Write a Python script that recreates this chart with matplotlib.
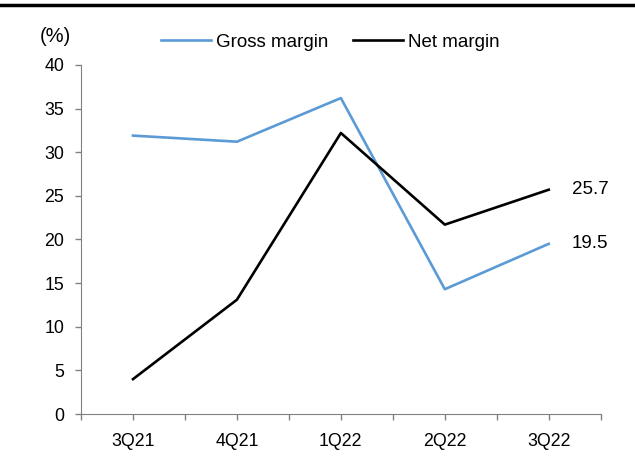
import matplotlib.pyplot as plt
import numpy as np
from matplotlib.lines import Line2D

plt.rcParams['font.family'] = ['Liberation Sans', 'DejaVu Sans']

quarters = ['3Q21', '4Q21', '1Q22', '2Q22', '3Q22']
gross_margin = [31.9, 31.2, 36.2, 14.3, 19.5]
net_margin = [4.0, 13.1, 32.2, 21.7, 25.7]

fig = plt.figure(figsize=(6.35, 4.57), dpi=100)
ax = fig.add_axes([0.1276, 0.094, 0.8184, 0.764])

x = np.arange(len(quarters))
ax.plot(x, gross_margin, color='#5b9bd5', lw=1.9, label='Gross margin')
ax.plot(x, net_margin, color='black', lw=1.9, label='Net margin')

# end-of-line value labels
ax.text(x[-1] + 0.22, gross_margin[-1], f'{gross_margin[-1]:.1f}', va='center', ha='left', fontsize=13.5)
ax.text(x[-1] + 0.22, net_margin[-1], f'{net_margin[-1]:.1f}', va='center', ha='left', fontsize=13.5)

ax.set_xlim(-0.5, len(quarters) - 0.5)
ax.set_ylim(0, 40)
ax.set_yticks(np.arange(0, 41, 5))
ax.set_xticks(x)
ax.set_xticklabels(quarters)
ax.set_xticks(np.arange(-0.5, len(quarters), 1), minor=True)
ax.tick_params(axis='both', which='both', direction='out', length=4, color='#808080',
               labelsize=12.8, width=1)
ax.tick_params(axis='x', which='major', pad=10)
ax.tick_params(axis='y', pad=8)

for side in ['top', 'right']:
    ax.spines[side].set_visible(False)
for side in ['left', 'bottom']:
    ax.spines[side].set_color('#808080')

fig.text(0.087, 0.92, '(%)', fontsize=14.5, ha='center', va='center')
fig.legend(loc='center', bbox_to_anchor=(0.52, 0.908), ncol=2, frameon=False,
           fontsize=13.5, handlelength=2.67, handletextpad=0.27, columnspacing=1.3)

# rule across the top
fig.add_artist(Line2D([0, 1], [0.989, 0.989], color='black', lw=2.5, transform=fig.transFigure))

fig.savefig('out.png', dpi=100)
